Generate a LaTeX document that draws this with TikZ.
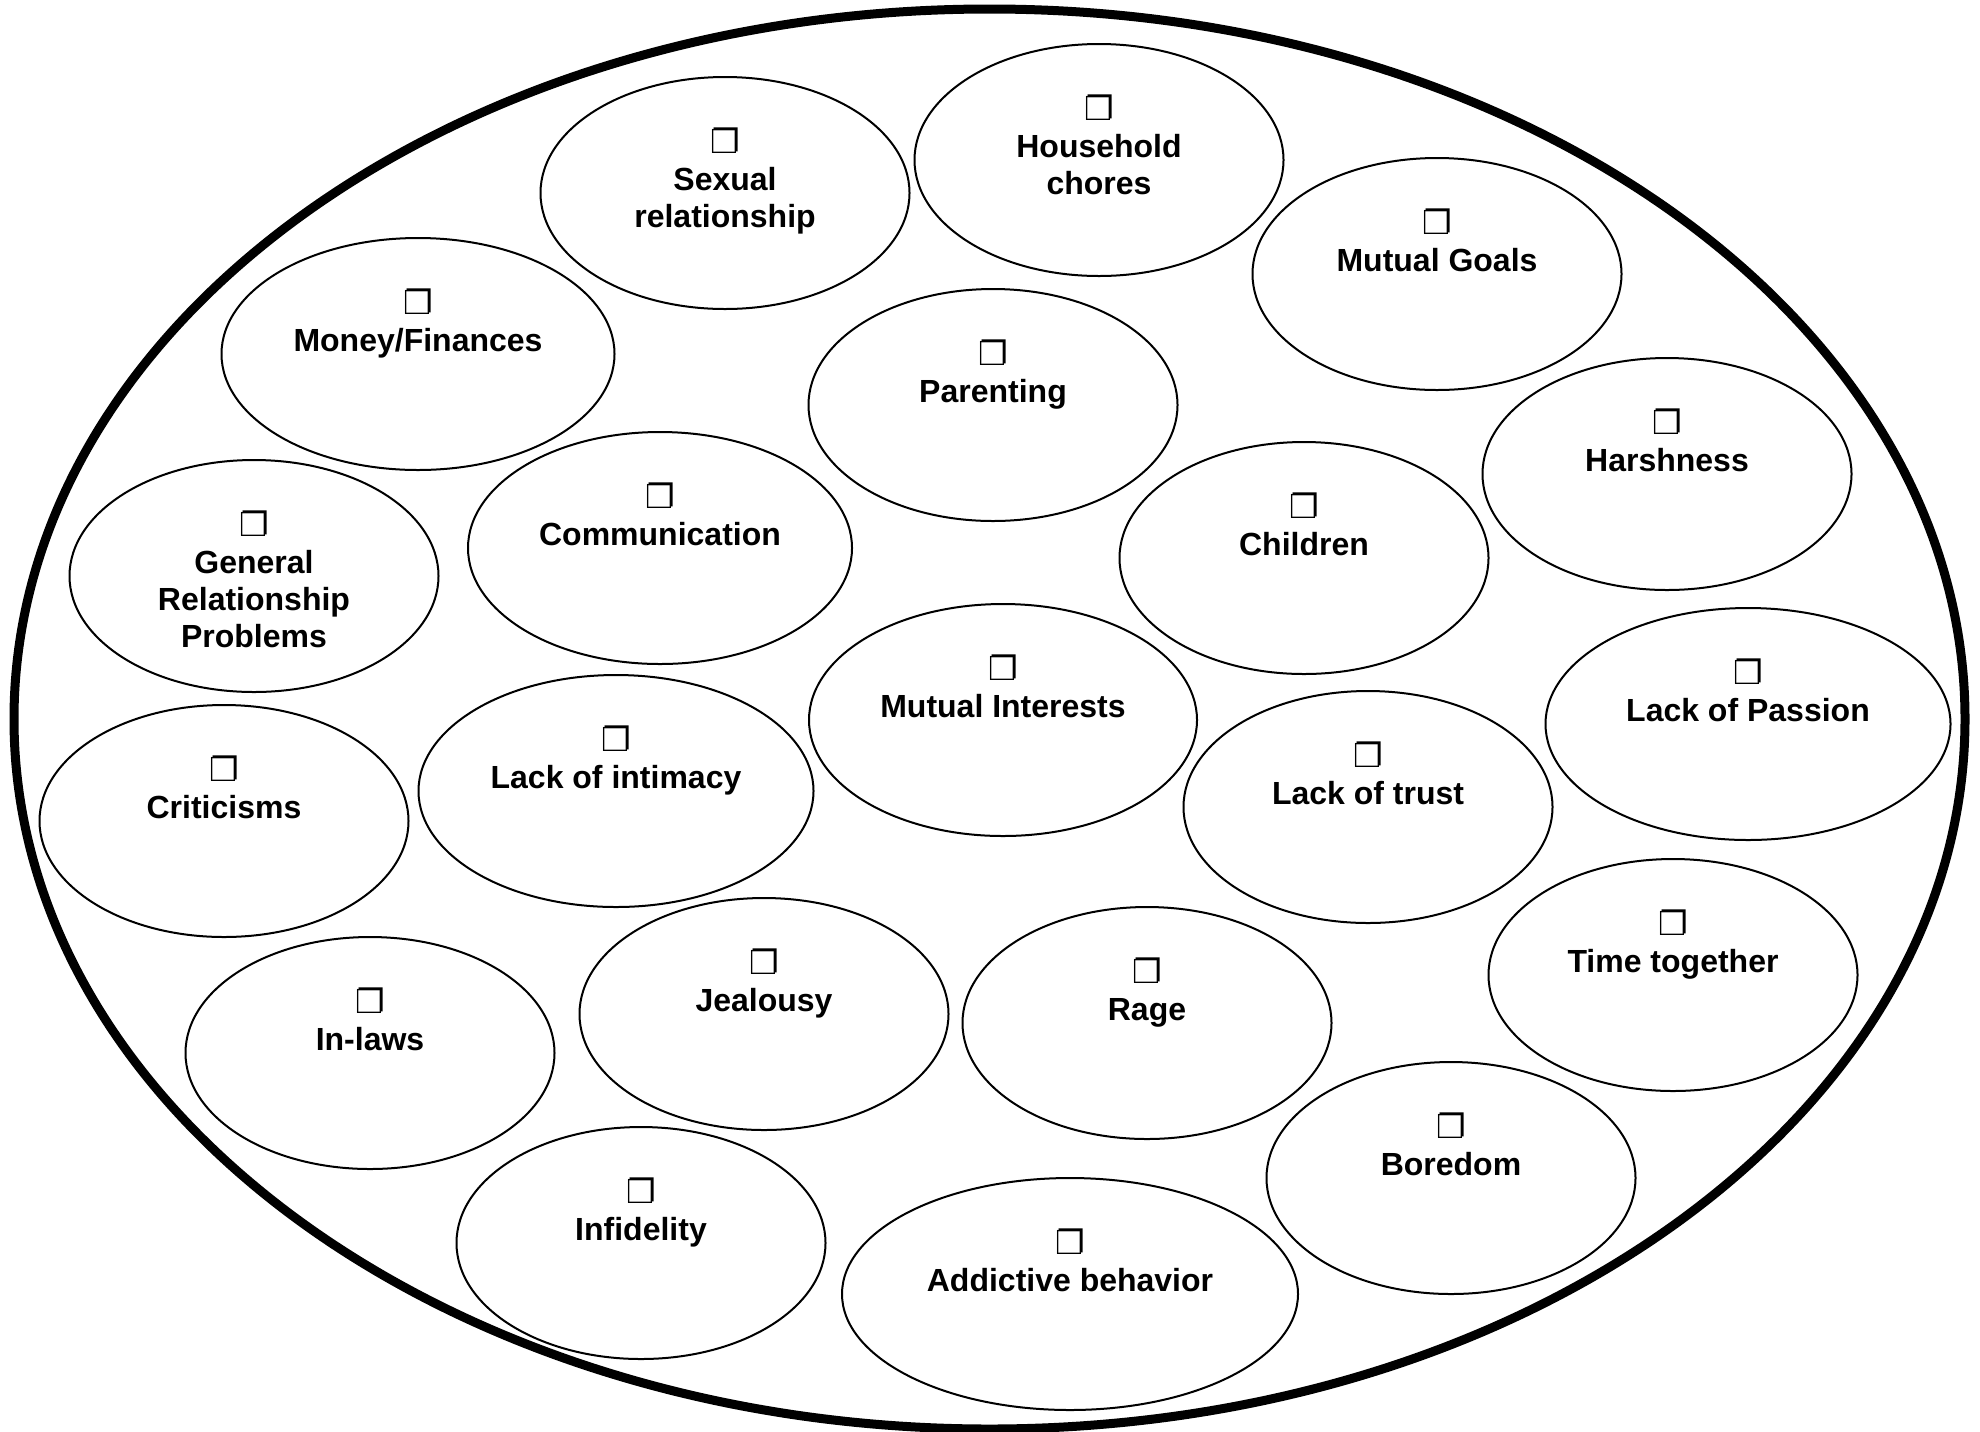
\documentclass[tikz,border=0pt]{standalone}
\usepackage{fontspec}
\setmainfont{Liberation Sans}
\newfontfamily\boxfont{DejaVu Sans}
\usetikzlibrary{shapes.geometric}
\newcommand{\chkbox}{{\boxfont\fontsize{16.5}{16.5}\selectfont ❐}}

\begin{document}
\begin{tikzpicture}[x=0.5pt,y=-0.5pt,
  topic/.style={ellipse,draw,line width=1pt,minimum width=184.5pt,minimum height=116pt,inner sep=0pt},
  topictext/.style={anchor=north,align=center,inner sep=0pt,font=\bfseries\fontsize{16}{18.5}\selectfont}]
\useasboundingbox (0,0) rectangle (1980,1431);
\node [ellipse,draw,line width=4.5pt,minimum width=975.5pt,minimum height=710pt,inner sep=0pt] (whole) at (989.5,719) {};
% top row
\node [topic] (sexual) at (725,193) {};
\node [topictext] (sexual-t) at ([yshift=-25.5pt]sexual.north) {\chkbox\\Sexual\\relationship};
\node [topic] (chores) at (1099,160) {};
\node [topictext] (chores-t) at ([yshift=-25.5pt]chores.north) {\chkbox\\Household\\chores};
\node [topic] (goals) at (1437,274) {};
\node [topictext] (goals-t) at ([yshift=-25.5pt]goals.north) {\chkbox\\Mutual Goals};
\node [topic,minimum width=196.5pt] (money) at (418,354) {};
\node [topictext] (money-t) at ([yshift=-25.5pt]money.north) {\chkbox\\Money/Finances};
\node [topic] (parenting) at (993,405) {};
\node [topictext] (parenting-t) at ([yshift=-25.5pt]parenting.north) {\chkbox\\Parenting};
\node [topic] (harshness) at (1667,474) {};
\node [topictext] (harshness-t) at ([yshift=-25.5pt]harshness.north) {\chkbox\\Harshness};
% middle
\node [topic,minimum width=192pt] (communication) at (660,548) {};
\node [topictext] (communication-t) at ([yshift=-25.5pt]communication.north) {\chkbox\\Communication};
\node [topic] (general) at (254,576) {};
\node [topictext] (general-t) at ([yshift=-25.5pt]general.north) {\chkbox\\General\\Relationship\\Problems};
\node [topic] (children) at (1304,558) {};
\node [topictext] (children-t) at ([yshift=-25.5pt]children.north) {\chkbox\\Children};
\node [topic,minimum width=194pt] (interests) at (1003,720) {};
\node [topictext] (interests-t) at ([yshift=-25.5pt]interests.north) {\chkbox\\Mutual Interests};
\node [topic,minimum width=202.5pt] (passion) at (1748,724) {};
\node [topictext] (passion-t) at ([yshift=-25.5pt]passion.north) {\chkbox\\Lack of Passion};
\node [topic] (criticisms) at (224,821) {};
\node [topictext] (criticisms-t) at ([yshift=-25.5pt]criticisms.north) {\chkbox\\Criticisms};
\node [topic,minimum width=197.5pt] (intimacy) at (616,791) {};
\node [topictext] (intimacy-t) at ([yshift=-25.5pt]intimacy.north) {\chkbox\\Lack of intimacy};
\node [topic] (trust) at (1368,807) {};
\node [topictext] (trust-t) at ([yshift=-25.5pt]trust.north) {\chkbox\\Lack of trust};
% bottom
\node [topic] (together) at (1673,975) {};
\node [topictext] (together-t) at ([yshift=-25.5pt]together.north) {\chkbox\\Time together};
\node [topic] (inlaws) at (370,1053) {};
\node [topictext] (inlaws-t) at ([yshift=-25.5pt]inlaws.north) {\chkbox\\In-laws};
\node [topic] (jealousy) at (764,1014) {};
\node [topictext] (jealousy-t) at ([yshift=-25.5pt]jealousy.north) {\chkbox\\Jealousy};
\node [topic] (rage) at (1147,1023) {};
\node [topictext] (rage-t) at ([yshift=-25.5pt]rage.north) {\chkbox\\Rage};
\node [topic] (boredom) at (1451,1178) {};
\node [topictext] (boredom-t) at ([yshift=-25.5pt]boredom.north) {\chkbox\\Boredom};
\node [topic] (infidelity) at (641,1243) {};
\node [topictext] (infidelity-t) at ([yshift=-25.5pt]infidelity.north) {\chkbox\\Infidelity};
\node [topic,minimum width=228pt] (addictive) at (1070,1294) {};
\node [topictext] (addictive-t) at ([yshift=-25.5pt]addictive.north) {\chkbox\\Addictive behavior};
\end{tikzpicture}
\end{document}
